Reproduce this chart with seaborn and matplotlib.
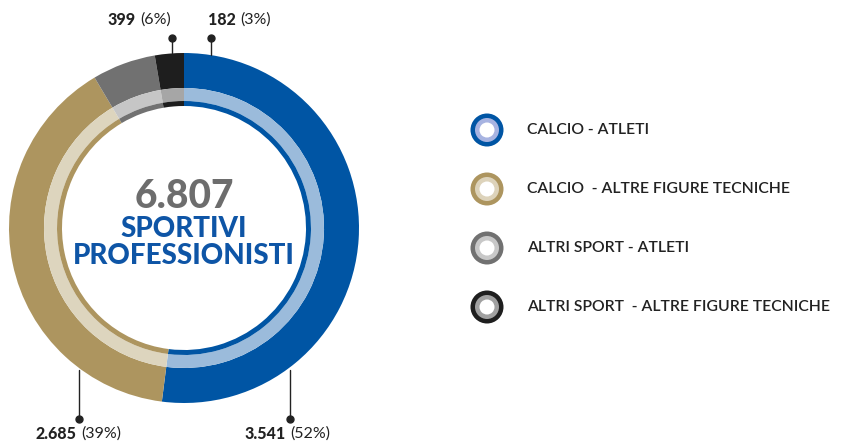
import numpy as np
import pandas as pd
import seaborn as sns
import matplotlib.pyplot as plt
from matplotlib.patches import Circle

# data
categories = ["CALCIO - ATLETI", "CALCIO  - ALTRE FIGURE TECNICHE",
              "ALTRI SPORT - ATLETI", "ALTRI SPORT  - ALTRE FIGURE TECNICHE"]
counts = [3541, 2685, 399, 182]
count_labels = ["3.541", "2.685", "399", "182"]
pct_labels = ["(52%)", "(39%)", "(6%)", "(3%)"]
total_label = "6.807"

dark = ["#0055A4", "#AD955F", "#717171", "#1E1E1E"]
light = ["#9BBBDB", "#DDD5BE", "#C6C6C6", "#A6A6A6"]
legend_light = ["#A7B3E1", "#DDD3BB", "#C8C8C8", "#A0A0A0"]

sns.set_theme(style="white")
plt.rcParams['font.family'] = ['Lato', 'DejaVu Sans']

W, H = 845, 443
fig = plt.figure(figsize=(W / 100, H / 100), dpi=100)
ax = fig.add_axes([0, 0, 1, 1])

cx, cy = 184, H - 228
df = pd.DataFrame({"cat": categories, "n": counts})

# outer ring, light band, thin inner ring
ax.pie(df["n"], radius=175, center=(cx, cy), startangle=90, counterclock=False,
       colors=dark, wedgeprops=dict(width=35, linewidth=0))
ax.pie(df["n"], radius=140, center=(cx, cy), startangle=90, counterclock=False,
       colors=light, wedgeprops=dict(width=13, linewidth=0))
ax.pie(df["n"], radius=127, center=(cx, cy), startangle=90, counterclock=False,
       colors=dark, wedgeprops=dict(width=5, linewidth=0))

ax.set_xlim(0, W)
ax.set_ylim(0, H)
ax.set_aspect('equal')
ax.axis('off')

# centre text
ax.text(cx, H - 196, total_label, ha='center', va='center', fontsize=28,
        fontweight='black', color='#6D6D6D')
ax.text(cx, H - 229, "SPORTIVI", ha='center', va='center', fontsize=20,
        fontweight='black', color='#0E55A6')
ax.text(cx, H - 256, "PROFESSIONISTI", ha='center', va='center', fontsize=20,
        fontweight='black', color='#0E55A6')

# leader lines + labels (line x, dot y, line end y, split x, text y)
leaders = [(290, 419, 370, 288, 434), (79, 419, 370, 79, 434),
           (172, 38, 53, 138, 20), (211, 38, 55, 238, 20)]
for i, (lx, dy, ey, sx, ty) in enumerate(leaders):
    ax.plot([lx, lx], [H - dy, H - ey], color='#222222', lw=1)
    ax.plot(lx, H - dy, 'o', color='#222222', ms=5)
    ax.text(sx - 2, H - ty, count_labels[i], ha='right', va='center',
            fontsize=11.5, fontweight='black', color='#222222')
    ax.text(sx + 2, H - ty, pct_labels[i], ha='left', va='center',
            fontsize=11.5, color='#222222')

# legend
ly = [130, 189, 248, 307]
for i, cat in enumerate(categories):
    y = H - ly[i]
    ax.add_patch(Circle((487, y), 16.5, color=dark[i], lw=0))
    ax.add_patch(Circle((487, y), 12, color=legend_light[i], lw=0))
    ax.add_patch(Circle((487, y), 7.5, color='white', lw=0))
    ax.text(527, y, cat, ha='left', va='center', fontsize=11.3,
            fontweight='semibold', color='#222222')

fig.savefig("out.png", dpi=100)
